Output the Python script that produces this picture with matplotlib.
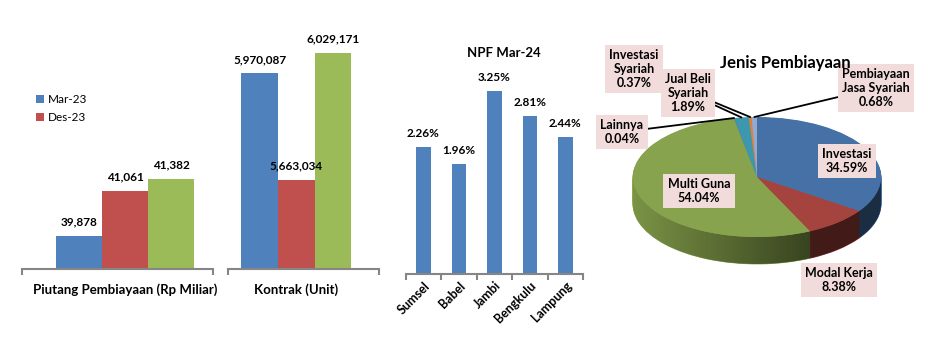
import matplotlib
matplotlib.use("Agg")
import matplotlib.pyplot as plt
from matplotlib.patches import Polygon
import numpy as np

# data
series = ["Mar-23", "Des-23", "Mar-24"]
piutang = [39878, 41061, 41382]
kontrak = [5970087, 5663034, 6029171]
bar_colors = ["#4F81BD", "#C0504D", "#9BBB59"]

npf_regions = ["Sumsel", "Babel", "Jambi", "Bengkulu", "Lampung"]
npf_values = [2.26, 1.96, 3.25, 2.81, 2.44]

pie_labels = ["Investasi", "Modal Kerja", "Multi Guna", "Lainnya",
              "Jual Beli\nSyariah", "Investasi\nSyariah", "Pembiayaan\nJasa Syariah"]
pie_values = [34.59, 8.38, 54.04, 0.04, 1.89, 0.37, 0.68]
pie_top = ["#4571A6", "#A5443F", "#88A34D", "#6F568C", "#3D97AE", "#D9823B", "#94A9CF"]

plt.rcParams["font.family"] = ["Lato", "DejaVu Sans"]
W, H = 932, 352
fig = plt.figure(figsize=(W / 100, H / 100), dpi=100)


def box(x0, x1, y0, y1):
    return [x0 / W, 1 - y1 / H, (x1 - x0) / W, (y1 - y0) / H]


axis_gray = "#868686"


def style_bar_axis(ax, lo, hi):
    for s in ["top", "right", "left"]:
        ax.spines[s].set_visible(False)
    ax.spines["bottom"].set_color(axis_gray)
    ax.spines["bottom"].set_linewidth(1.5)
    ax.set_yticks([])
    ax.set_xlim(lo, hi)
    ax.tick_params(axis="x", which="major", length=0)
    ax.tick_params(axis="x", which="minor", length=4, width=1.5, color=axis_gray)


# left two charts (separate scales)
def group_chart(ax, vals, label, lo, hi, ymin, ymax):
    x = np.arange(len(vals)) - 1
    bars = []
    for i in range(len(vals)):
        b = ax.bar(x[i], vals[i], width=1.0, color=bar_colors[i], label=series[i])
        ax.bar_label(b, labels=[f"{vals[i]:,.0f}"], padding=6, fontsize=8.5,
                     fontweight="bold")
        bars.append(b)
    ax.set_ylim(ymin, ymax)
    style_bar_axis(ax, lo, hi)
    ax.set_xticks([0])
    ax.set_xticklabels([label], fontsize=9.5, fontweight="bold")
    ax.set_xticks([lo, hi], minor=True)
    ax.tick_params(axis="x", which="major", pad=10)
    return bars


ax1 = fig.add_axes(box(22, 213, 20, 269))
bars = group_chart(ax1, piutang, "Piutang Pembiayaan (Rp Miliar)", -2.24, 1.91,
                   39007, 45577)
ax2 = fig.add_axes(box(228, 379, 20, 269))
group_chart(ax2, kontrak, "Kontrak (Unit)", -1.86, 2.25, 5407066, 6123201)

ax1.legend(handles=bars[:2], loc="upper left", bbox_to_anchor=(30 / W, 1 - 88 / H),
           bbox_transform=fig.transFigure, frameon=False, fontsize=8.5,
           handlelength=0.7, handleheight=0.7, handletextpad=0.3, labelspacing=0.6,
           borderpad=0)

# NPF chart
ax3 = fig.add_axes(box(405.7, 583, 20, 274))
xb = np.arange(len(npf_values))
b3 = ax3.bar(xb, npf_values, width=0.41, color="#4F81BD")
ax3.bar_label(b3, labels=[f"{v:.2f}%" for v in npf_values], padding=6, fontsize=8.5,
              fontweight="bold")
ax3.set_ylim(0, 4.52)
style_bar_axis(ax3, -0.5, len(npf_values) - 0.5)
ax3.set_xticks(xb)
ax3.set_xticklabels(npf_regions, rotation=45, ha="right", rotation_mode="anchor",
                    fontsize=9, fontweight="bold")
ax3.set_xticks(np.arange(len(npf_values) + 1) - 0.5, minor=True)
ax3.tick_params(axis="x", which="major", pad=4)
fig.text(504 / W, 1 - 53 / H, "NPF Mar-24", ha="center", va="center",
         fontsize=9.5, fontweight="bold")

# 3D-looking pie: stacked layers for the side, shaded with a gradient
ax4 = fig.add_axes(box(600, 930, 30, 310))
depth = 0.45
n_layers = 28
for i in range(n_layers):
    ax4.pie(pie_values, colors=pie_top, startangle=90, counterclock=False,
            center=(0, -depth + i * depth / n_layers),
            wedgeprops=dict(linewidth=0.6))
    for w in ax4.patches[-len(pie_values):]:
        w.set_edgecolor(w.get_facecolor())

t = np.linspace(np.pi, 2 * np.pi, 200)
band = np.vstack([np.column_stack([np.cos(t), np.sin(t)]),
                  np.column_stack([np.cos(t[::-1]), np.sin(t[::-1]) - depth])])
band_patch = Polygon(band, closed=True, transform=ax4.transData, fc="none", ec="none")
ax4.add_patch(band_patch)
gx = np.linspace(-1, 1, 300)
alpha = np.clip(0.1 + (gx + 1) / 1.4 * 0.48, 0, 0.6)
grad = np.zeros((2, len(gx), 4))
grad[..., 3] = alpha
im = ax4.imshow(grad, extent=[-1, 1, -1 - depth, 0], aspect="auto", zorder=1.5,
                origin="lower")
im.set_clip_path(band_patch)

top_wedges, _ = ax4.pie(pie_values, colors=pie_top, startangle=90, counterclock=False,
                        wedgeprops=dict(linewidth=0))
for w in top_wedges:
    w.set_zorder(2)
ax4.set_aspect("auto")
ax4.set_xlim(-1.266, 1.395)
ax4.set_ylim(-2.217, 2.45)
ax4.axis("off")

fig.text(785 / W, 1 - 63 / H, "Jenis Pembiayaan", ha="center", va="center",
         fontsize=12, fontweight="bold")

cum = np.cumsum(pie_values) - np.array(pie_values) / 2
mid = np.deg2rad(90 - 360 * cum / sum(pie_values))
label_pos = [(847, 161), (839, 280), (699, 191), (622, 132), (688, 93), (634, 69), (876, 88)]
leader = [False, False, False, True, True, True, True]
zord = [5, 5, 5, 5, 7, 6, 5]
bbox = dict(boxstyle="square,pad=0.35", fc="#F2DCDB", ec="none")
for i, lab in enumerate(pie_labels):
    txt = f"{lab}\n{pie_values[i]:.2f}%"
    px, py = label_pos[i]
    if leader[i]:
        ax4.annotate(txt, xy=(np.cos(mid[i]), np.sin(mid[i])), xycoords="data",
                     xytext=(px / W, 1 - py / H), textcoords="figure fraction",
                     ha="center", va="center", fontsize=9, fontweight="bold",
                     bbox=bbox, zorder=zord[i], annotation_clip=False,
                     arrowprops=dict(arrowstyle="-", color="black", lw=1.3,
                                     shrinkA=0, shrinkB=0))
    else:
        fig.text(px / W, 1 - py / H, txt, ha="center", va="center", fontsize=9,
                 fontweight="bold", bbox=bbox, zorder=zord[i])

fig.savefig("out.png", dpi=100)
